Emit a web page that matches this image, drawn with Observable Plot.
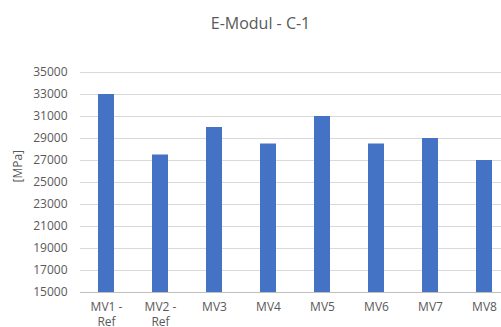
<!DOCTYPE html>
<html>
<head>
<meta charset="utf-8">
<script src="https://cdn.jsdelivr.net/npm/d3@7"></script>
<script src="https://cdn.jsdelivr.net/npm/@observablehq/plot@0.6"></script>
<style>
  html, body { margin: 0; padding: 0; background: #fff; overflow: hidden; }
  #wrap { position: relative; width: 501px; height: 327px; font-family: "Open Sans", sans-serif; }
  #title { position: absolute; left: 0; top: 12px; width: 521px; text-align: center; font-size: 16px; color: #595959; }
  #chart { position: absolute; left: 0; top: 45px; }
</style>
</head>
<body>
<div id="wrap">
  <div id="title">E-Modul - C-1</div>
  <div id="chart"></div>
</div>
<script>
const categories = ["MV1 -\nRef", "MV2 -\nRef", "MV3", "MV4", "MV5", "MV6", "MV7", "MV8"];
const values = [33000, 27500, 30000, 28500, 31000, 28500, 29000, 27000];
const yTicks = [15000, 17000, 19000, 21000, 23000, 25000, 27000, 29000, 31000, 33000, 35000];
const yLabel = "[MPa]";

const data = categories.map((c, i) => ({cat: c, value: values[i], line1: c.split("\n")[0], line2: c.split("\n")[1] || ""}));

const plot = Plot.plot({
  width: 501,
  height: 282,
  marginLeft: 80,
  marginRight: 0,
  marginTop: 27,
  marginBottom: 35,
  style: {fontFamily: "Open Sans, sans-serif", fontSize: "12px", color: "#595959", background: "transparent"},
  x: {domain: categories, range: [78, 512], paddingInner: 0.705, paddingOuter: 0.3525, label: null, axis: null},
  y: {domain: [15000, 35000], label: null},
  marks: [
    Plot.ruleY(yTicks.slice(1), {stroke: "#d9d9d9", strokeWidth: 1}),
    Plot.barY(data, {x: "cat", y1: 15000, y2: "value", fill: "#4472c4"}),
    Plot.ruleY([15000], {stroke: "#bfbfbf", strokeWidth: 1}),
    Plot.text(data, {x: "cat", frameAnchor: "bottom", lineAnchor: "top", dy: 10, text: "line1", fill: "#595959", fontSize: 12}),
    Plot.text(data, {x: "cat", frameAnchor: "bottom", lineAnchor: "top", dy: 25, text: "line2", fill: "#595959", fontSize: 12}),
    Plot.axisY({ticks: yTicks, tickSize: 0, tickPadding: 13, tickFormat: d => String(d), label: null}),
    Plot.text([yLabel], {frameAnchor: "left", dx: -62, rotate: -90, text: d => d, fill: "#595959", fontSize: 12})
  ]
});
document.getElementById("chart").appendChild(plot);
</script>
</body>
</html>
